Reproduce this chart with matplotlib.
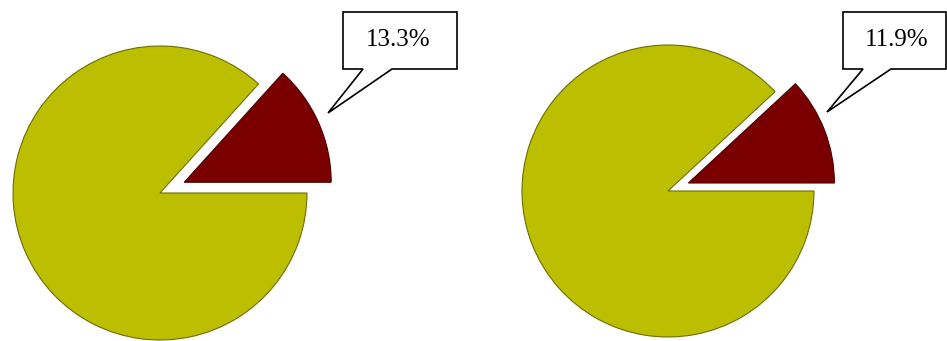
import numpy as np
import matplotlib
matplotlib.use("Agg")
import matplotlib.pyplot as plt
from matplotlib.patches import Polygon

# data
shares = [13.3, 11.9]          # highlighted slice, percent
labels = ["13.3%", "11.9%"]

YELLOW = "#bbbf00"
RED = "#7a0000"
W, H = 947, 341

fig = plt.figure(figsize=(W / 100, H / 100), dpi=100)
ax = fig.add_axes([0, 0, 1, 1])

# layout (pixel coords, y measured from top)
centers = [(160, 193), (668, 191)]
radii = [147, 146]
explode = [0.18, 0.15]                # fraction of radius
boxes = [(343, 457), (843, 946)]      # callout box x-range
box_y = (12, 69)
notch = [(363, 392), (863, 891)]
tips = [(328, 113), (827, 112)]
text_x = [398, 897]

for i, pct in enumerate(shares):
    cx, cy = centers[i]
    r = radii[i]
    wedges, _ = ax.pie(
        [pct, 100 - pct],
        colors=[RED, YELLOW],
        startangle=0,
        counterclock=True,
        explode=[explode[i] * r, 0],
        center=(cx, H - cy),
        radius=r,
        wedgeprops=dict(linewidth=0.8),
    )
    wedges[0].set_edgecolor("#4a0000")
    wedges[1].set_edgecolor("#6e6e00")

    x0, x1 = boxes[i]
    top, bot = H - box_y[0], H - box_y[1]
    n0, n1 = notch[i]
    tx, ty = tips[i][0], H - tips[i][1]
    poly = Polygon(
        [(x0, top), (x1, top), (x1, bot), (n1, bot), (tx, ty), (n0, bot), (x0, bot)],
        closed=True, facecolor="white", edgecolor="black", lw=1.2, zorder=5,
    )
    ax.add_patch(poly)
    ax.text(
        text_x[i], H - 40, labels[i],
        ha="center", va="center", fontsize=18,
        family="Liberation Serif", zorder=6,
    )

ax.set_xlim(0, W)
ax.set_ylim(0, H)
ax.set_aspect("equal")
ax.axis("off")

fig.savefig("out.png", dpi=100)
